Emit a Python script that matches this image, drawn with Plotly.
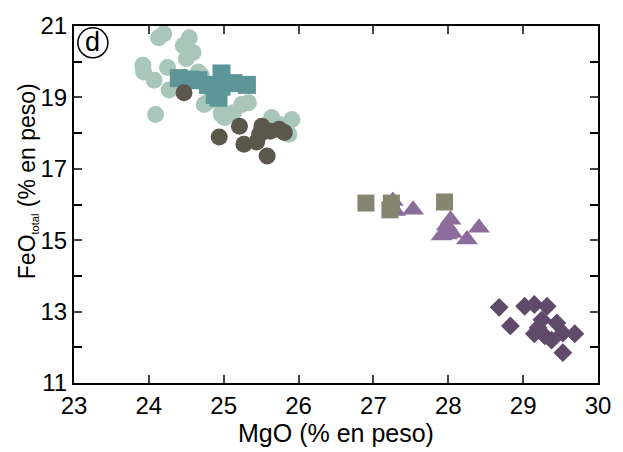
import plotly.graph_objects as go

# light green circles
lg_x = [24.20, 24.13, 24.54, 24.46, 24.59, 24.50, 23.92, 23.93, 24.25, 24.07, 24.27, 24.09,
        24.66, 24.97, 24.97, 25.33, 25.13, 25.64, 25.91, 25.87, 24.79, 25.24, 25.01, 25.74,
        24.70, 24.74]
lg_y = [20.78, 20.67, 20.67, 20.45, 20.26, 20.09, 19.90, 19.71, 19.84, 19.48, 19.21, 18.52,
        19.71, 18.52, 18.60, 18.85, 18.57, 18.44, 18.38, 17.97, 18.88, 18.80, 18.44, 18.25,
        19.62, 18.80]
# teal squares
ts_x = [24.40, 24.55, 24.66, 24.97, 24.88, 25.13, 25.31, 24.97, 24.79, 24.93]
ts_y = [19.54, 19.50, 19.48, 19.67, 19.07, 19.40, 19.35, 19.30, 19.35, 18.99]
# dark circles
dc_x = [24.47, 24.94, 25.21, 25.51, 25.74, 25.81, 25.27, 25.44, 25.58, 25.48, 25.62]
dc_y = [19.13, 17.89, 18.19, 18.19, 18.11, 18.02, 17.69, 17.75, 17.36, 17.97, 18.05]
# olive squares
os_x = [26.90, 27.24, 27.22, 27.95]
os_y = [16.04, 16.04, 15.85, 16.07]
# purple triangles
tr_x = [27.26, 27.29, 27.53, 27.98, 27.98, 27.91, 28.25, 28.41, 28.03, 28.05]
tr_y = [16.10, 15.82, 15.85, 15.41, 15.16, 15.13, 15.02, 15.35, 15.57, 15.20]
# dark purple diamonds
dm_x = [28.68, 28.83, 29.02, 29.15, 29.32, 29.15, 29.29, 29.45, 29.53, 29.69, 29.53, 29.25, 29.38, 29.20]
dm_y = [13.12, 12.60, 13.15, 13.20, 13.15, 12.38, 12.32, 12.68, 12.40, 12.38, 11.85, 12.77, 12.20, 12.55]

x_ticks = [23, 24, 25, 26, 27, 28, 29, 30]
y_ticks = [11, 13, 15, 17, 19, 21]

fig = go.Figure()

def add(x, y, symbol, size, color):
    fig.add_trace(go.Scatter(x=x, y=y, mode="markers",
                             marker=dict(symbol=symbol, size=size, color=color,
                                         line=dict(width=0)),
                             showlegend=False, hoverinfo="skip"))

add(lg_x, lg_y, "circle", 17, "#a9c6ba")
add(ts_x, ts_y, "square", 18, "#5c9699")
add(dc_x, dc_y, "circle", 17, "#5b574a")
add(tr_x, tr_y, "triangle-up", 19, "#8b6c9a")
add(os_x, os_y, "square", 17, "#868670")
add(dm_x, dm_y, "diamond", 14.5, "#5f4a6a")

fam = "Liberation Sans, Arial, sans-serif"
tick_font = dict(family=fam, size=24, color="black")
title_font = dict(family=fam, size=25, color="black")

fig.update_xaxes(range=[23, 30], tickvals=x_ticks, ticks="inside", ticklen=8, tickwidth=2,
                 showline=True, linewidth=2, linecolor="black", mirror="ticks",
                 showgrid=False, zeroline=False, tickfont=tick_font,
                 title=dict(text="MgO (% en peso)", font=title_font, standoff=4))
fig.update_yaxes(range=[11, 21], tickvals=y_ticks, ticks="inside", ticklen=8, tickwidth=2,
                 showline=True, linewidth=2, linecolor="black", mirror="ticks",
                 showgrid=False, zeroline=False, tickfont=tick_font,
                 minor=dict(dtick=1, ticks="inside", ticklen=8, tickwidth=2, tickcolor="black"))

# y-axis title as rotated annotation
fig.add_annotation(xref="paper", yref="paper", x=-0.088, y=0.565,
                   text="FeO<sub><span style='font-size:11px'>total</span></sub> (% en peso)",
                   textangle=-90, showarrow=False, xanchor="center", yanchor="middle",
                   font=dict(family=fam, size=23, color="black"))

fig.add_shape(type="circle", xref="paper", yref="paper", xsizemode="pixel", ysizemode="pixel",
              xanchor=0.036, yanchor=0.953, x0=-15, x1=15, y0=-15, y1=15,
              line=dict(color="black", width=1.5))
fig.add_annotation(xref="paper", yref="paper", x=0.036, y=0.953, text="d", showarrow=False,
                   font=dict(family=fam, size=27, color="black"),
                   xanchor="center", yanchor="middle", yshift=1)

fig.update_layout(width=623, height=452, plot_bgcolor="white", paper_bgcolor="white",
                  margin=dict(l=74, r=25, t=20, b=69))

fig.write_html("out.html", config={"displayModeBar": False},
               post_script="document.body.style.margin='0px';document.body.style.overflow='hidden';")
